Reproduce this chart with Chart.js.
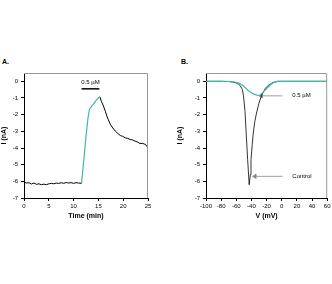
<!DOCTYPE html>
<html>
<head>
<meta charset="utf-8">
<script src="https://cdn.jsdelivr.net/npm/chart.js@4"></script>
<style>
  body { margin:0; width:332px; height:284px; background:#fff; position:relative; overflow:hidden; font-family:"Liberation Sans", Arial, sans-serif; }
  .panel { position:absolute; top:50px; width:166px; height:174px; }
  .lab { position:absolute; top:58px; font-size:7px; font-weight:bold; color:#000; }
</style>
</head>
<body>
<div class="lab" style="left:2px">A.</div>
<div class="lab" style="left:181px">B.</div>
<div class="panel" style="left:0"><canvas id="chartA"></canvas></div>
<div class="panel" style="left:166px"><canvas id="chartB"></canvas></div>
<script>
// Panel A: current vs time
const timeBase = [0, 0.5, 1, 1.5, 2, 2.5, 3, 3.5, 4, 4.5, 5, 5.5, 6, 6.5, 7, 7.5, 8, 8.5, 9, 9.5, 10, 10.5, 11, 11.6];
const currBase = [-6.05, -6.1, -6.08, -6.16, -6.1, -6.18, -6.15, -6.2, -6.17, -6.2, -6.15, -6.12, -6.15, -6.1, -6.13, -6.08, -6.12, -6.07, -6.1, -6.08, -6.12, -6.08, -6.1, -6.12];
const timeDrug = [11.6, 12.1, 12.5, 12.9, 13.2, 13.6, 14.0, 14.4, 14.7, 15.0, 15.3];
const currDrug = [-6.12, -4.6, -3.3, -2.2, -1.67, -1.5, -1.37, -1.2, -1.1, -1.0, -0.93];
const timeWash = [15.3, 15.6, 16.0, 16.4, 16.7, 17.0, 17.4, 17.9, 18.4, 18.9, 19.4, 19.9, 20.4, 20.9, 21.4, 21.9, 22.4, 22.9, 23.4, 23.9, 24.5, 25];
const currWash = [-0.93, -1.2, -1.47, -1.8, -2.08, -2.3, -2.58, -2.8, -2.98, -3.12, -3.25, -3.3, -3.39, -3.42, -3.49, -3.52, -3.59, -3.64, -3.73, -3.72, -3.79, -3.99];
const barTime = [11.6, 15.2];
const barLevel = -0.45;

// Panel B: current vs voltage
const voltCtrl = [-100, -80, -70, -65, -60, -57, -54.8, -52, -50.5, -48.5, -47, -45, -43, -41.5, -40.6, -39, -37.6, -35.5, -33.3, -30, -26.9, -22, -18.3, -12, -5.4, 0, 20, 40, 60];
const currCtrl = [0, 0, -0.01, -0.04, -0.1, -0.17, -0.26, -0.5, -0.87, -1.8, -3.08, -4.7, -6.2, -5.6, -4.7, -3.8, -3.1, -2.4, -1.9, -1.3, -0.87, -0.45, -0.26, -0.08, 0, 0, 0, 0, 0];
const voltDrug = [-100, -80, -70, -62, -56, -50, -44, -40, -36.3, -32, -29, -26, -22.6, -18, -14, -9, -5.4, 0, 20, 40, 60];
const currDrug2 = [0, 0, -0.01, -0.04, -0.12, -0.3, -0.56, -0.68, -0.77, -0.85, -0.83, -0.72, -0.56, -0.34, -0.16, -0.05, 0, 0, 0, 0, 0];
const arrowDrug = { x: [-27, 1], y: -0.87, text: '0.5 µM' };
const arrowCtrl = { x: [-35.5, 1], y: -5.7, text: 'Control' };

const teal = '#3fb8a6';
const tickFont = { family: 'Liberation Sans', size: 6 };
const titleFont = { family: 'Liberation Sans', size: 7, weight: 'bold' };

function pts(xs, ys) {
  return xs.map((x, i) => ({ x: x, y: Array.isArray(ys) ? ys[i] : ys }));
}

// box around the plot area plus text annotations
const boxPlugin = {
  id: 'box',
  afterDraw(chart, args, opts) {
    const c = chart.ctx, a = chart.chartArea;
    c.save();
    c.strokeStyle = '#999';
    c.lineWidth = 1;
    c.beginPath();
    c.moveTo(a.left, a.top + 0.5);
    c.lineTo(a.right - 0.5, a.top + 0.5);
    c.lineTo(a.right - 0.5, a.bottom);
    c.stroke();
    c.fillStyle = '#000';
    c.font = '6px "Liberation Sans"';
    c.textBaseline = 'middle';
    (opts.notes || []).forEach(n => {
      c.textAlign = n.align || 'left';
      c.fillText(n.text, chart.scales.x.getPixelForValue(n.x), chart.scales.y.getPixelForValue(n.y));
    });
    c.restore();
  }
};

function axes(xmin, xmax, xstep, xtitle, ywidth) {
  return {
    x: {
      type: 'linear', min: xmin, max: xmax,
      ticks: { stepSize: xstep, font: tickFont, color: '#000', padding: 2, maxRotation: 0 },
      grid: { drawOnChartArea: false, tickLength: 3, color: '#000' },
      border: { color: '#000' },
      title: { display: true, text: xtitle, font: titleFont, color: '#000', padding: { top: 3 } },
      afterFit(s) { s.height = 26; s.paddingLeft = 0; s.paddingRight = 0; }
    },
    y: {
      type: 'linear', min: -7, max: 0.5,
      afterBuildTicks(s) { s.ticks = [-7, -6, -5, -4, -3, -2, -1, 0].map(v => ({ value: v })); },
      ticks: { font: tickFont, color: '#000', padding: 3 },
      grid: { drawOnChartArea: false, tickLength: 3, color: '#000' },
      border: { color: '#000' },
      title: { display: true, text: 'I (nA)', font: titleFont, color: '#000', padding: 0 },
      afterFit(s) { s.width = ywidth; s.paddingTop = 0; s.paddingBottom = 0; }
    }
  };
}

const lineDs = (data, color, w, order) => ({ data: data, borderColor: color, borderWidth: w, pointRadius: 0, fill: false, tension: 0, order: order });

new Chart(document.getElementById('chartA'), {
  type: 'line',
  data: {
    datasets: [
      lineDs(pts(timeBase, currBase), '#000', 1, 1),
      lineDs(pts(timeDrug, currDrug), teal, 1.2, 0),
      lineDs(pts(timeWash, currWash), '#000', 1, 1),
      lineDs(pts(barTime, barLevel), '#000', 1.5, 1)
    ]
  },
  options: {
    responsive: true, maintainAspectRatio: false, animation: false,
    layout: { padding: { left: 0, right: 18, top: 23, bottom: 0 } },
    scales: axes(0, 25, 5, 'Time (min)', 24),
    plugins: {
      legend: { display: false }, tooltip: { enabled: false },
      box: { notes: [{ x: 13.4, y: -0.05, text: '0.5 µM', align: 'center' }] }
    }
  },
  plugins: [boxPlugin]
});

const arrowDs = (a) => ({
  data: pts(a.x, a.y), borderColor: '#888', backgroundColor: '#888', borderWidth: 0.8,
  pointRadius: [2.5, 0], pointStyle: 'triangle', pointRotation: -90, tension: 0, order: 2
});

new Chart(document.getElementById('chartB'), {
  type: 'line',
  data: {
    datasets: [
      lineDs(pts(voltCtrl, currCtrl), '#000', 0.8, 1),
      lineDs(pts(voltDrug, currDrug2), teal, 1.2, 0),
      arrowDs(arrowDrug),
      arrowDs(arrowCtrl)
    ]
  },
  options: {
    responsive: true, maintainAspectRatio: false, animation: false,
    layout: { padding: { left: 10, right: 0, top: 23, bottom: 0 } },
    scales: axes(-100, 60, 20, 'V (mV)', 30),
    plugins: {
      legend: { display: false }, tooltip: { enabled: false },
      box: { notes: [
        { x: arrowDrug.x[1] + 13, y: arrowDrug.y, text: arrowDrug.text },
        { x: arrowCtrl.x[1] + 13, y: arrowCtrl.y, text: arrowCtrl.text }
      ] }
    }
  },
  plugins: [boxPlugin]
});
</script>
</body>
</html>
